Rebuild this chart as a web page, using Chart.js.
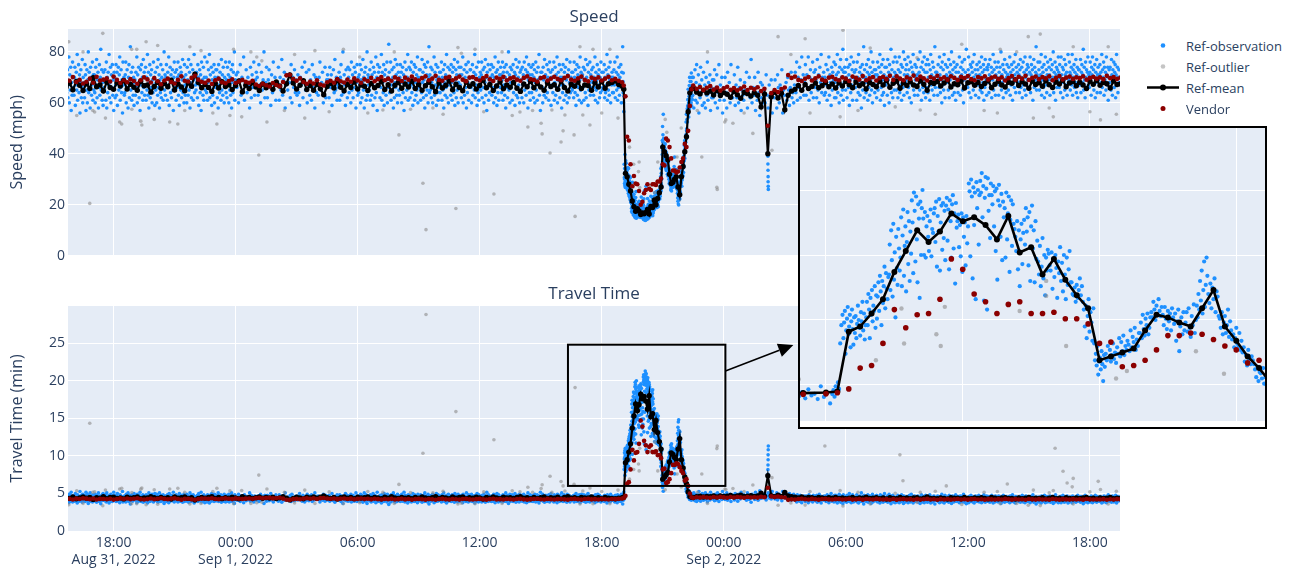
<!DOCTYPE html>
<html><head><meta charset="utf-8">
<script src="https://cdn.jsdelivr.net/npm/chart.js@4.4.0/dist/chart.umd.min.js"></script>
<style>
body{margin:0;background:#fff;width:1297px;height:571px;overflow:hidden;position:relative;font-family:'Open Sans',sans-serif;}
#top{position:absolute;left:0;top:0;}
#bot{position:absolute;left:0;top:280px;}
#insetBox{position:absolute;left:798px;top:126px;width:465px;height:299px;border:2px solid #000;background:#fff;z-index:5;}
#inset{position:absolute;left:0;top:0;}
#legend{position:absolute;left:1143px;top:35px;font-size:13px;color:#2a3f5f;z-index:6;}
.li{height:21px;display:flex;align-items:center;}
.li svg{display:block;}
</style></head>
<body>
<canvas id="top" width="1120" height="267"></canvas>
<canvas id="bot" width="1120" height="291"></canvas>
<div id="insetBox"><canvas id="inset" width="465" height="299"></canvas></div>
<div id="legend">
 <div class="li"><svg width="43" height="21"><circle cx="20" cy="10.5" r="2.3" fill="#1E90FF"/></svg><span>Ref-observation</span></div>
 <div class="li"><svg width="43" height="21"><circle cx="20" cy="10.5" r="2.3" fill="rgba(150,150,150,0.55)"/></svg><span>Ref-outlier</span></div>
 <div class="li"><svg width="43" height="21"><line x1="4" y1="10.5" x2="36" y2="10.5" stroke="#000" stroke-width="2.5"/><circle cx="20" cy="10.5" r="3" fill="#000"/></svg><span>Ref-mean</span></div>
 <div class="li"><svg width="43" height="21"><circle cx="20" cy="10.5" r="2.5" fill="#8B0000"/></svg><span>Vendor</span></div>
</div>
<script>
// ---------- DATA ----------
// travel time (min) = DIST / speed (mph); segment length 4.9 mi
const DIST = 294;
// time axis: hours since Aug 31 2022 00:00
const tickHours = [18,24,30,36,42,48,54,60,66];
const tickLabels = [['18:00','Aug 31, 2022'],['00:00','Sep 1, 2022'],'06:00','12:00','18:00',['00:00','Sep 2, 2022'],'06:00','12:00','18:00'];
const speedTicks = [0,20,40,60,80];
const ttTicks = [0,5,10,15,20,25];

// Ref-mean & Vendor speed (mph), 10-min steps from Aug 31 15:40 to Sep 1 19:00
const meanStartA = 15 + 40/60;
const meanSpeedA = [66.2,67.8,65.1,68.4,66.9,64.8, 67.5,65.6,69.9,66.3,67.1,64.6, 68.2,66.0,65.3,67.9,66.6,68.8,
 65.4,67.3,66.1,64.9,68.5,66.7, 67.0,64.2,66.4,68.1,65.7,67.6, 66.3,68.9,65.0,67.4,66.2,64.7,
 67.8,66.5,71.2,68.0,65.9,67.2, 66.0,64.5,67.7,65.8,68.3,66.4, 67.1,65.2,66.8,68.6,64.3,66.9,
 65.6,67.9,66.2,64.8,67.4,65.9, 67.0,65.3,68.2,66.6,64.6,67.5, 71.0,67.8,65.4,66.9,68.7,65.2,
 66.8,64.9,67.3,65.5,63.2,66.4, 67.7,65.8,68.9,66.1,64.7,67.2, 66.0,68.3,65.4,67.0,66.5,64.8,
 67.6,65.9,66.8,68.4,65.2,67.1, 64.6,66.9,68.0,65.7,67.4,66.2, 68.5,65.6,67.2,64.9,66.7,68.1,
 66.3,64.4,67.9,65.8,66.9,68.6, 65.1,67.3,66.0,64.7,68.2,66.5, 67.5,65.4,66.8,68.9,65.9,67.2,
 64.8,66.6,68.3,65.5,67.0,66.1, 68.0,65.7,64.5,67.4,66.3,68.5, 65.9,67.6,66.2,64.9,67.8,66.4,
 67.1,65.3,68.7,66.0,64.6,67.3, 66.5,68.2,65.6,67.0,66.8,64.9, 67.9,66.2,68.4,65.7,67.5,68.0,
 68.6,67.2,66.5];
const vendorSpeedA = [69.4,68.7,70.1,68.2,69.0,67.6, 68.3,69.5,67.9,70.2,68.8,69.1, 69.6,68.4,70.3,69.0,67.8,68.9,
 68.1,69.3,68.6,67.5,68.9,70.0, 69.2,68.0,69.7,68.5,67.3,68.8, 69.5,68.2,67.6,69.0,70.4,68.7,
 68.4,69.8,70.6,69.1,68.3,67.9, 68.8,67.4,68.9,69.5,68.1,67.7, 68.6,69.2,67.8,68.4,69.0,68.3,
 67.9,68.7,67.2,66.6,67.5,66.9, 66.4,67.8,67.0,66.5,68.2,70.8, 71.0,69.4,68.7,69.6,68.2,67.5,
 68.4,67.6,68.9,67.2,66.8,68.1, 68.7,67.9,69.3,68.5,68.0,69.1, 68.3,69.6,68.8,67.9,69.2,68.6,
 69.8,68.5,69.3,70.1,68.9,69.5, 68.7,70.0,69.4,68.6,69.9,69.1, 70.3,69.2,68.8,69.7,70.4,68.9,
 69.5,70.6,69.0,68.7,69.8,70.2, 68.9,69.6,70.3,69.1,68.5,69.9, 70.1,69.3,68.8,69.7,70.5,69.2,
 68.6,69.9,69.4,70.2,68.9,69.6, 70.0,69.1,68.7,69.8,70.4,69.3, 69.0,68.4,69.7,70.1,68.8,69.5,
 70.2,69.4,68.9,69.8,70.5,69.1, 68.7,69.6,70.3,69.0,68.5,69.9, 69.3,70.0,68.8,69.5,70.2,68.9,
 69.4,68.7,68.1];

// Incident window, travel time (min), 5-min steps from Sep 1 19:05 to 22:25
const eventStart = 43 + 5/60;
const eventMeanTT = [4.5, 9.1,9.5,10.5,11.6,13.7,15.3,16.9,16.0,16.8,18.2,17.6,17.9,17.3,16.2,18.0,15.2,15.6,13.5,14.7,13.1,
 11.9,10.9,6.9,7.2,7.5,7.8,9.2,10.4,10.2,9.8,9.5,10.9,12.3,9.5,8.4,7.2,6.3, 5.2,4.6,4.5];
const eventVendorTT = [4.4, 4.7,6.3,6.5,8.2,10.8,9.4,10.4,10.5,11.6,14.7,13.9,12.0,11.4,10.5,11.2,11.4,10.5,10.5,10.6,10.1,
 10.1,9.7,8.2,8.3,6.4,6.5,6.9,7.7,8.8,8.8,9.0,8.9,8.5,8.0,7.7,6.7,6.9, 6.0,5.0,4.5];
const eventObsTT = [
 [4.3,4.6,4.1,4.9,4.4,5.2,4.7,8.2,9.6,10.4],
 [8.6,9.8,10.7,7.4,9.2,10.1,11.0,8.9,9.5,10.4,7.9,9.9,10.8,9.3,8.1,10.2],
 [9.0,10.3,8.6,9.7,11.1,10.0,9.4,8.8,10.6,9.9,11.4,9.2,10.5,8.5,9.6],
 [10.2,11.4,9.6,12.0,10.8,8.6,11.7,10.4,12.3,9.9,11.1,10.7,12.6,9.4,11.9,10.1],
 [11.8,12.9,10.7,13.4,12.2,9.6,13.0,11.3,12.6,14.1,10.9,13.6,12.4,11.6,13.3],
 [13.5,15.8,12.3,16.9,14.6,11.8,17.4,13.1,15.2,10.2,16.4,14.0,12.7,17.0,15.5,13.8],
 [14.8,17.9,12.6,16.5,18.5,13.4,15.7,17.2,12.2,16.0,18.3,14.3,17.6,13.0,16.8,15.1],
 [19.2,17.5,13.6,19.8,18.4,14.5,19.5,16.2,12.9,18.9,17.8,11.7,19.1,15.0,18.6,20.0],
 [17.8,15.0,18.3,14.8,17.2,18.0,16.4,15.3,17.6,18.5,14.9,17.0,16.7,18.2],
 [18.6,16.0,19.1,14.1,18.0,16.8,19.3,13.8,17.5,18.8,15.4,19.0,16.3,18.4,14.6],
 [18.8,19.4,16.1,18.5,13.9,19.2,17.6,14.8,18.9,19.6,15.5,18.2,12.8,19.0,17.1],
 [17.6,18.1,15.6,17.3,14.9,18.2,13.7,17.9,16.4,17.5,14.2,18.0,15.9,17.2],
 [20.5,19.9,14.9,20.8,19.5,13.2,20.2,17.3,19.8,11.6,20.6,18.6,20.0,15.8,19.6],
 [20.7,19.8,21.3,17.9,20.3,11.5,19.4,21.0,20.1,10.8,20.9,18.4,19.6,16.3,20.5],
 [19.6,18.9,20.3,17.2,19.9,15.3,20.1,13.1,19.2,20.4,18.8,16.4,19.7,14.6],
 [19.1,17.9,18.6,14.8,19.8,16.2,18.2,19.5,13.7,17.7,19.2,15.7,18.9,17.4],
 [17.0,16.4,15.3,17.6,13.9,16.9,12.6,16.2,17.4,14.3,16.7,17.7,15.8],
 [18.6,16.8,17.9,14.2,18.3,13.0,17.2,18.8,15.5,16.9,12.9,17.6,14.7],
 [16.1,14.5,13.5,15.7,12.6,14.1,16.3,13.2,15.0,11.9,14.8,13.8,15.4],
 [15.1,14.2,13.8,15.2,12.4,14.7,13.3,15.0,14.0,11.7,14.5,13.6],
 [15.6,13.0,14.4,12.2,15.0,13.5,11.6,14.8,12.7,13.9,15.3,12.9],
 [12.9,12.0,11.9,12.5,11.4,12.7,11.7,12.3,13.2,11.9,12.6],
 [11.4,10.8,9.5,11.1,8.6,10.3,11.6,9.1,10.6,9.8,8.4,10.9],
 [8.2,6.9,7.4,6.5,8.0,5.8,6.8,7.1,6.2,7.6,6.6,5.3,7.3,6.4],
 [7.4,6.9,8.0,7.1,7.7,6.8,7.3,8.2,7.0,7.5,6.7],
 [7.9,7.4,8.6,7.2,8.3,7.6,8.8,7.3,8.0,7.7,8.4],
 [8.1,7.6,9.2,7.9,8.7,8.3,9.4,7.7,8.5,8.0,9.0],
 [9.0,9.8,8.6,10.4,9.3,8.8,10.1,9.6,10.5,8.9,9.4,10.2],
 [10.6,10.2,11.4,10.8,10.0,11.1,10.4,11.6,10.7,10.3,11.0],
 [10.4,9.6,11.0,10.1,9.3,10.7,9.9,10.5,9.2,10.9,10.2],
 [9.7,10.5,8.4,9.9,10.8,7.6,9.5,10.2,8.9,10.6,9.2],
 [9.8,10.6,9.1,10.9,9.4,8.7,10.3,9.6,11.2,9.0,10.0],
 [11.1,10.2,12.0,10.8,13.0,11.5,13.8,10.5,12.3,14.5,11.0,12.7,14.8,13.4],
 [12.0,11.3,12.8,10.9,12.5,11.6,13.2,10.6,12.2,11.8,10.3],
 [10.1,9.4,10.6,8.9,9.8,10.3,9.0,9.6,10.8,8.7,9.9],
 [9.2,8.5,8.9,7.9,8.6,9.4,8.2,8.0,9.0,7.7,8.4],
 [7.5,7.9,6.8,7.3,6.5,7.7,7.0,6.6,7.2,6.9],
 [6.6,6.2,5.6,6.4,5.3,6.0,5.9,5.5,6.3,5.1],
 [5.6,5.0,4.8,5.3,4.5,5.2,4.9,5.4,4.6],
 [4.7,4.4,5.1,4.2,4.8,4.5,4.3,4.9,4.6,5.0],
 [4.6,4.3,4.9,4.1,4.5,5.0,4.4,4.7,4.2,4.8]];

// Ref-mean & Vendor speed (mph), 10-min steps from Sep 1 22:30 to Sep 2 19:30
const meanStartC = 46.5;
const meanSpeedC = [65.8,64.2,63.5,65.0,63.9,64.6, 63.1,64.8,62.9,64.0,63.4,62.2, 64.5,63.2,61.8,64.1,63.6,62.7,
 64.0,63.0,58.4,63.5,40.0,62.4, 64.2,61.9,63.8,57.3,63.0,64.6, 65.3,66.8,64.9,67.2,65.6,66.4,
 67.8,65.9,66.7,68.1,66.3,67.4, 65.8,67.9,66.6,68.4,67.1,65.9, 68.2,66.7,67.5,65.4,68.0,67.2,
 66.3,68.5,67.0,68.9,66.1,67.7, 68.6,65.7,67.9,66.8,68.3,67.0, 66.4,68.7,67.3,64.9,68.0,67.6,
 68.4,66.6,67.8,69.0,66.2,67.5, 67.1,68.6,65.8,67.9,68.3,66.9, 68.0,66.4,67.6,68.8,65.9,67.3,
 68.5,67.0,66.2,68.1,67.7,69.1, 66.8,68.3,67.4,65.7,68.6,67.2, 67.9,66.5,68.7,67.1,66.0,68.2,
 67.4,68.9,66.3,67.8,68.4,66.7, 68.1,67.0,65.6,68.5,67.3,68.8, 66.9,68.0,67.5,65.8,68.6,67.2,
 67.4];
const vendorSpeedC = [66.8,65.5,66.2,65.0,65.9,66.6, 65.2,66.0,64.8,65.7,66.3,65.1, 65.8,64.9,65.6,66.4,65.0,65.9,
 65.3,66.1,64.6,65.5,51.0,63.8, 65.0,64.2,65.4,66.0,70.9,69.8, 70.3,69.0,68.6,69.5,70.1,68.8,
 69.6,70.4,69.1,68.7,69.9,70.2, 69.3,68.9,70.0,69.5,68.6,70.3, 69.8,69.1,70.5,68.9,69.6,70.1,
 68.8,69.7,70.2,69.3,70.6,69.0, 70.4,69.5,68.9,70.0,69.4,70.7, 69.2,70.3,69.6,68.8,70.1,69.5,
 70.6,69.4,70.0,69.1,70.4,69.8, 69.0,70.2,69.7,70.5,69.3,68.9, 70.1,69.6,70.4,69.2,69.9,70.3,
 69.4,70.0,68.8,69.7,70.5,69.1, 70.2,69.5,70.6,69.0,69.8,70.3, 69.3,70.1,69.6,70.4,68.9,69.8,
 70.5,69.2,69.9,70.3,69.4,70.0, 69.7,70.4,69.1,69.8,70.2,69.5, 70.0,69.3,70.6,69.7,70.1,69.4,
 69.9];

// Ref-observation speeds (mph) in 30-min bins from Aug 31 15:32:30
const obsStartA = 15 + 32.5/60;
const obsSpeedA = [
 [66,72,61,70,58,75,64,69,73,62,67,78,60,71,65,74,57,68,63,76,70,66],
 [63,70,74,59,67,72,65,79,61,69,75,64,71,56,68,73,62,66,77,60,70,67],
 [68,62,75,71,57,65,73,60,69,80,64,72,66,58,74,70,63,67,76,61,71,65],
 [71,64,60,74,67,77,62,69,72,58,66,75,63,70,81,65,73,61,68,59,72,66],
 [65,73,69,61,76,58,70,64,72,67,79,62,68,74,60,71,66,75,63,69,57,72],
 [70,62,67,75,63,72,59,68,74,65,71,78,61,66,73,64,69,56,76,67,70,63],
 [64,71,76,60,68,73,66,58,70,75,62,69,82,65,72,61,67,74,63,70,59,68],
 [69,63,72,66,78,60,71,65,74,62,68,57,73,67,75,64,70,61,77,66,72,63],
 [67,74,61,70,65,79,63,72,58,68,75,62,71,66,73,60,69,64,76,67,70,59],
 [72,65,68,60,74,63,77,66,71,58,69,64,75,62,70,67,73,61,68,80,65,71],
 [63,70,75,67,61,72,66,78,59,69,74,64,71,62,68,73,65,57,70,76,66,72],
 [68,61,73,66,70,76,63,71,59,67,74,65,72,62,69,77,64,70,60,75,67,63],
 [71,66,60,74,69,63,77,65,72,58,68,75,62,70,66,73,61,69,79,64,71,67],
 [65,72,68,62,75,70,59,67,73,64,71,57,76,66,69,63,74,61,70,78,65,68],
 [70,64,76,61,68,73,66,79,62,71,65,74,59,69,63,72,67,75,60,70,66,73],
 [66,73,62,70,58,75,67,64,72,69,61,77,65,71,63,74,68,60,70,66,76,64],
 [69,62,74,67,71,60,76,65,70,63,73,58,68,75,64,72,66,80,61,69,67,71],
 [66,72,60,69,75,63,70,65,78,61,68,73],
 [64,70,67,58,74,62,71,66,76,63,69,72],
 [70,63,75,67,60,72,65,69,80,62,68,74],
 [62,69,73,66,59,71,64,76,67,70,61,68],
 [68,74,61,70,65,77,63,69,72,58,67,71],
 [65,71,68,62,75,60,70,66,73,64,69,63],
 [71,64,59,70,67,74,62,68,76,65,72,60],
 [67,73,63,69,61,75,66,71,58,70,64,68],
 [63,70,76,65,68,72,60,67,74,62,69,71],
 [69,62,74,66,71,59,68,73,64,77,65,70,61,67],
 [66,72,61,70,75,63,68,80,64,71,67,59,73,69,62,74],
 [70,64,73,67,60,76,65,71,62,69,74,66,72,58,68,75,63,70],
 [64,71,67,75,60,69,73,62,68,77,65,70,58,72,66,74,61,69,80,63,71,67],
 [70,65,73,61,68,76,63,71,67,59,74,66,72,62,69,78,64,70,57,75,67,72],
 [67,74,62,70,66,79,61,72,68,64,75,59,71,65,73,63,69,76,60,70,66,83],
 [72,64,69,76,61,67,73,65,70,58,74,62,68,77,66,71,63,75,60,69,72,65],
 [63,70,75,66,72,60,68,74,64,71,57,69,76,62,67,73,65,70,79,61,68,74],
 [69,62,73,67,76,64,70,59,72,66,75,61,68,74,63,71,65,78,60,70,67,73],
 [66,73,61,70,64,77,68,72,62,69,75,58,67,74,63,71,65,76,60,70,82,64],
 [71,65,74,62,68,73,60,70,66,78,63,72,67,75,59,69,64,74,61,70,66,72],
 [64,72,67,76,61,70,65,73,58,68,75,63,71,66,79,62,69,74,60,70,67,73],
 [70,63,75,68,61,72,66,74,64,77,59,69,73,62,71,65,76,60,68,74,66,71],
 [67,74,62,71,65,78,60,69,73,63,70,66,75,58,72,64,68,76,61,70,67,73],
 [73,66,60,70,75,63,68,72,65,79,62,71,67,74,59,69,64,76,61,70,66,72],
 [65,71,76,62,69,73,66,60,74,68,77,63,70,57,72,66,75,61,69,64,73,70],
 [68,75,63,71,66,74,60,70,65,78,62,72,67,59,73,64,76,61,69,71,66,74],
 [71,64,69,76,61,72,67,74,63,70,58,75,66,72,62,69,80,65,71,60,74,68],
 [66,73,61,70,75,64,68,72,59,71,77,63,69,74,62,70,67,76,60,72,65,73],
 [69,62,74,67,71,60,76,65,70,73,63,78,66,72,58,69,75,64,71,61,68,74],
 [64,71,66,75,62,70,73,60,68,76,65,72,61,69,74,67,79,63,70,57,72,66],
 [72,66,60,74,69,63,77,65,71,62,68,75,64,70,73,61,69,76,66,72,59,70],
 [67,73,64,70,76,61,68,74,63,71,66,78,60,69,72,65,75,62,70,67,73,58],
 [70,64,75,67,61,72,66,74,63,69,77,60,71,65,73,62,68,76,64,70,66,72],
 [65,72,68,62,76,70,64,73,59,67,75,63,71,66,74,61,69,78,65,72,60,70],
 [71,66,74,61,69,73,64,77,62,70,67,75,59,72,65,68,76,63,71,66,73,69],
 [68,74,63,70,66,78,61,72,65,69,75,60,71,67,73,62,70,64,76,68,72,65],
 [66,72,69,75,62,70,64,73,67,79,61,71,65,74,63,69,76,60,70,67,72,64],
 [70,64,73,67,76,62,69,72,65,78,61,71,66,74,63,70,68,75,60,72,67,82]];

// Ref-observation speeds (mph) in 30-min bins from Sep 1 22:27:30
const obsStartC = 46 + 27.5/60;
const obsSpeedC = [
 [63,70,58,66,73,61,68,75,60,65,71,56,67,62,74,64,69,59],
 [65,72,60,67,58,70,63,76,61,68,64,71,57,66,62,69],
 [62,69,73,60,66,71,58,64,75,61,67,63,70,56],
 [66,61,70,64,58,72,63,68,60,75,65,62],
 [64,71,59,67,62,74,60,66,69,57,65,63],
 [61,68,65,72,58,64,70,62,77,60,66],
 [63,70,57,66,61,72,64,55,68,62,67,60],
 [65,60,71,63,58,67,62,69,56,64],
 [62,69,64,58,71,66,60,67,63,73,56,65],
 [63,57,68,61,70,65,59,66,72,62,64,60],
 [67,72,64,76,61,70,66,74,62,69,78,65,71,63],
 [68,75,63,71,66,78,61,70,73,64,69,76,62,72],
 [66,73,69,62,77,65,71,60,74,68,79,64,70,67,72,63],
 [70,64,75,67,61,73,66,78,63,71,68,59,74,65,72,69,76,62],
 [68,75,62,71,66,79,64,72,69,60,74,67,77,63,70,73,65,81,61,72,68,74],
 [72,65,70,77,62,68,74,66,71,59,75,69,64,78,67,73,61,70,76,66,72,69],
 [66,73,69,61,76,70,64,79,67,72,63,74,68,58,71,75,65,70,82,62,73,68],
 [70,64,75,68,72,61,77,66,71,63,74,69,80,65,72,60,76,67,70,73,64,71],
 [73,67,62,71,76,65,70,74,68,79,61,72,66,75,63,69,77,64,71,59,74,68],
 [67,74,70,63,77,69,72,60,75,66,71,81,64,73,68,62,76,70,65,72,78,69],
 [71,65,76,68,62,73,70,78,64,72,67,75,61,69,74,66,80,63,71,77,68,73],
 [69,75,64,71,78,66,73,62,70,76,68,60,74,67,72,79,65,71,63,75,69,70],
 [74,67,71,63,77,69,72,65,80,68,74,61,70,76,66,73,64,78,69,72,62,75],
 [66,72,77,64,70,75,68,61,73,79,67,71,65,76,69,74,63,70,82,66,72,68],
 [72,68,63,75,70,66,78,71,64,74,69,60,76,67,73,65,79,70,62,75,68,71],
 [68,74,70,65,77,62,72,69,75,66,80,71,63,73,67,76,64,70,74,61,72,69],
 [75,69,64,72,67,78,70,63,74,68,71,76,65,73,60,69,77,66,72,70,81,67],
 [70,66,73,78,64,71,68,75,62,74,69,72,76,65,70,79,67,73,63,71,68,75],
 [67,73,69,62,76,71,65,74,70,78,64,72,68,75,61,73,66,77,70,69,63,74],
 [73,68,75,64,71,77,66,70,74,62,72,69,79,65,73,67,76,63,71,70,74,68],
 [69,76,63,72,67,74,70,80,65,71,68,75,62,73,69,77,66,72,64,70,75,71],
 [71,65,74,69,78,63,72,67,75,70,61,73,68,76,66,71,79,64,74,69,72,67],
 [68,75,71,64,73,77,66,70,74,62,69,76,67,72,65,78,70,63,73,71,75,69],
 [74,69,66,72,78,64,71,75,68,73,61,70,77,66,74,69,72,82,65,71,68,76],
 [70,73,65,76,68,71,79,63,74,69,72,66,75,62,70,78,67,73,64,71,76,69],
 [67,74,71,63,77,69,73,66,75,70,80,64,72,68,76,61,71,74,66,73,69,78],
 [72,66,75,70,64,78,71,68,74,62,73,69,77,65,71,75,67,72,63,70,79,68],
 [69,76,72,65,71,74,67,79,63,73,70,75,66,72,68,77,64,71,74,62,70,73],
 [73,67,70,77,64,72,75,68,71,81,65,74,69,62,76,70,73,66,72,78,67,71],
 [66,72,76,69,63,74,71,78,67,73,65,70,75,62,72,68,77,64,71,74,69,70],
 [71,75,64,72,68,79,66,73,70,76,63,74,69,72,65,78,71,67,74,61,70,73],
 [68,74,70,65,77,71,63,73,69,76,66,72,75,62,71,79,67,74,64,70,73,68]];

// Brief slowdown Sep 2 ~02:10, individual observations
const spikeObsHour = [50.17,50.17,50.175,50.18,50.18,50.185,50.19];
const spikeObsSpeed = [39,36,33.5,31,29,27.2,26];

// Ref-outlier observations (hour, mph)
const outlierHour = [15.8,17.47,16.83,25.14,18.89,19.14,20.17,21.75,16.98,17.07,18.30,18.40,19.34,19.39,20.76,21.16,23.08,23.72,25.54,24.75,25.04,25.29,22.88,27.40,16.19,
 32.03,33.21,33.36,34.83,36.70,40.69,39.46,40.0,39.07,39.02,40.1,40.64,38.37,41.07,41.42,34.93,35.77,40.93,41.57,30.1,33.7,31.24,37.98,39.55,40.19,
 47.66,47.68,46.92,50.67,52.0,49.43,48.1,48.45,50.37,53.86,48.05,52.24,53.72,56.43,57.66,61.45,63.22,64.2,66.52,57.5,61.59,65.18,63.56,62.97,
 64.29,64.68,64.88,65.18,65.13,66.41,56.66,56.81,52.97,61.94,58.94,
 43.365,43.552,43.571,43.807,43.839,43.869,44.416,44.61,44.61,44.756,45.121,45.2,45.705,45.91,
 30.5,31.8,32.6,34.2,35.1,36.2,27.9,28.6,29.3,37.1,37.6,38.6,42.0,42.4,42.8,46.7,47.2,49.0,51.3,54.6,55.2,58.4,59.7,60.8,62.4,64.0,66.0,66.9,67.3,17.6,18.9,20.0,21.5,22.3,23.9,24.3,26.4,26.9,19.6,16.5];
const outlierSpeed = [84,87.3,20.5,39.5,81,81,82.5,82,57,56.4,52.5,51.7,52.8,51.3,52.5,51.7,51.7,55,52.5,80,78,76.5,56,54,55,
 47.4,28.4,10.2,18.5,24.2,15.4,40.3,44.6,47.8,52,49,47.4,50.5,55.2,51.3,81.7,81,82,81,78,58,57.2,56.4,57.2,55.2,
 26.8,26.0,38.7,86,85.2,48,53.3,52,41.4,88.5,52.5,56,54.5,58.4,57.2,56,54,54.5,53.3,77.7,81,82,87,86,
 26.7,37,46,42,50,44.5,29,44,26,47,49,
 42.6,27.0,35.9,33.0,36.75,26.7,27.5,22.6,24.8,36.75,53.5,48.4,38.7,50.1,
 56,80,57.5,55.5,79.5,56.5,80.5,56.5,81,80,55,57,56,81,54,57,80,56,79,57,81.5,55.5,83,57,80,58,56.5,82,55.5,54,57.5,53.5,57,80.5,81,54.5,57,79,84,80];

// ---------- BUILD POINTS ----------
const same = v => v;
const flip = v => DIST / v;   // mph <-> min over the segment
function series(start, step, vals, conv){ return vals.map((v,i)=>({x:start+i*step, y:conv(v)})); }
function bins(start, width, groups, conv){
  const out=[]; groups.forEach((g,k)=>{ const n=g.length; g.forEach((v,i)=>{ out.push({x:start+k*width+(i+0.5)/n*width, y:conv(v)}); }); }); return out;
}
function build(convSpeed, convTT){
  return {
    obs: [].concat(bins(obsStartA,0.5,obsSpeedA,convSpeed), bins(eventStart-2.5/60,5/60,eventObsTT,convTT), bins(obsStartC,0.5,obsSpeedC,convSpeed),
                   spikeObsHour.map((h,i)=>({x:h,y:convSpeed(spikeObsSpeed[i])}))),
    out: outlierHour.map((h,i)=>({x:h,y:convSpeed(outlierSpeed[i])})),
    mean: [].concat(series(meanStartA,1/6,meanSpeedA,convSpeed), series(eventStart,1/12,eventMeanTT,convTT), series(meanStartC,1/6,meanSpeedC,convSpeed)),
    vend: [].concat(series(meanStartA,1/6,vendorSpeedA,convSpeed), series(eventStart,1/12,eventVendorTT,convTT), series(meanStartC,1/6,vendorSpeedC,convSpeed))
  };
}
const speedPts = build(same, flip);
const ttPts = build(flip, same);

// ---------- CHARTS ----------
const FONT = "'Open Sans', sans-serif";
const TXT = '#2a3f5f';
Chart.defaults.font.family = FONT;
Chart.defaults.color = TXT;

const plotBg = { id:'plotBg', beforeDraw(c){ const a=c.chartArea, x=c.ctx; x.save(); x.fillStyle='#E5ECF6'; x.fillRect(a.left,a.top,a.right-a.left,a.bottom-a.top); x.restore(); } };
const panelTitle = { id:'panelTitle', afterDraw(c,args,o){ if(!o.text) return; const a=c.chartArea, x=c.ctx; x.save(); x.font='17px '+FONT; x.fillStyle=TXT; x.textAlign='center'; x.textBaseline='middle'; x.fillText(o.text,(a.left+a.right)/2,a.top-12); x.restore(); } };
const zoomBox = { id:'zoomBox', afterDatasetsDraw(c,args,o){ if(!o.box) return; const sx=c.scales.x, sy=c.scales.y, x=c.ctx;
  x.save(); x.strokeStyle='#000'; x.lineWidth=2;
  const L=sx.getPixelForValue(o.box[0]), R=sx.getPixelForValue(o.box[1]), T=sy.getPixelForValue(o.box[3]), B=sy.getPixelForValue(o.box[2]);
  x.strokeRect(L,T,R-L,B-T);
  const x0=sx.getPixelForValue(o.arrow[0]), y0=sy.getPixelForValue(o.arrow[1]), x1=sx.getPixelForValue(o.arrow[2]), y1=sy.getPixelForValue(o.arrow[3]);
  const ang=Math.atan2(y1-y0,x1-x0), hl=15, hw=7;
  const bx=x1-hl*Math.cos(ang), by=y1-hl*Math.sin(ang);
  x.lineWidth=1.5; x.beginPath(); x.moveTo(x0,y0); x.lineTo(bx,by); x.stroke();
  x.fillStyle='#000'; x.beginPath(); x.moveTo(x1,y1); x.lineTo(bx-hw*Math.sin(ang),by+hw*Math.cos(ang)); x.lineTo(bx+hw*Math.sin(ang),by-hw*Math.cos(ang)); x.closePath(); x.fill();
  x.restore(); } };

function datasets(p, big){
  return [
    {label:'Vendor', data:p.vend, order:0, pointRadius:big?2.8:2.3, pointBackgroundColor:'#8B0000', pointBorderWidth:0, showLine:false},
    {label:'Ref-mean', data:p.mean, order:1, pointRadius:big?3:2.7, pointBackgroundColor:'#000', pointBorderWidth:0, showLine:true, borderColor:'#000', borderWidth:big?2.6:2.2, tension:0},
    {label:'Ref-outlier', data:p.out, order:2, pointRadius:big?2.2:1.8, pointBackgroundColor:'rgba(140,140,140,0.6)', pointBorderWidth:0, showLine:false},
    {label:'Ref-observation', data:p.obs, order:3, pointRadius:big?2.1:1.8, pointBackgroundColor:'#1E90FF', pointBorderWidth:0, showLine:false}
  ];
}
const grid = {color:'#ffffff', lineWidth:1, drawTicks:false};
function xAxis(showLabels, h){
  return { type:'linear', min:15.76, max:67.48, border:{display:false}, grid:grid,
    afterBuildTicks:s=>{ s.ticks = tickHours.map(v=>({value:v})); },
    afterFit:s=>{ s.height=h; },
    ticks:{ display:showLabels, autoSkip:false, maxRotation:0, padding:4, font:{size:14,lineHeight:1.2}, color:TXT,
      callback:v=>{ const i=tickHours.indexOf(v); return i>=0?tickLabels[i]:''; } } };
}
function yAxis(max, tks, title){
  return { type:'linear', min:0, max:max, border:{display:false}, grid:grid,
    afterBuildTicks:s=>{ s.ticks = tks.map(v=>({value:v})); },
    afterFit:s=>{ s.width=68; },
    ticks:{ padding:3, font:{size:14}, color:TXT },
    title:{ display:true, text:title, font:{size:16}, color:TXT, padding:{top:8,bottom:0} } };
}
const common = { responsive:false, animation:false, events:[], layout:{autoPadding:false},
  plugins:{ legend:{display:false}, tooltip:{enabled:false} } };

new Chart(document.getElementById('top'), { type:'scatter', data:{datasets:datasets(speedPts,false)},
  plugins:[plotBg,panelTitle],
  options:Object.assign({}, common, { layout:{autoPadding:false, padding:{top:29,bottom:5,left:0,right:0}},
    plugins:{ legend:{display:false}, tooltip:{enabled:false}, panelTitle:{text:'Speed'} },
    scales:{ x:xAxis(false,0), y:yAxis(89, speedTicks, 'Speed (mph)') } }) });

new Chart(document.getElementById('bot'), { type:'scatter', data:{datasets:datasets(ttPts,false)},
  plugins:[plotBg,panelTitle,zoomBox],
  options:Object.assign({}, common, { layout:{autoPadding:false, padding:{top:26,bottom:0,left:0,right:0}},
    plugins:{ legend:{display:false}, tooltip:{enabled:false}, panelTitle:{text:'Travel Time'},
      zoomBox:{ box:[40.34,48.08,6.0,24.8], arrow:[48.08,21.3,51.42,24.77] } },
    scales:{ x:xAxis(true,40), y:yAxis(29.95, ttTicks, 'Travel Time (min)') } }) });

new Chart(document.getElementById('inset'), { type:'scatter', data:{datasets:datasets(ttPts,true)},
  plugins:[plotBg],
  options:Object.assign({}, common, { layout:{autoPadding:false, padding:{top:0,bottom:6,left:0,right:0}},
    scales:{
      x:{ type:'linear', min:42.81, max:46.21, border:{display:false}, grid:grid, ticks:{display:false},
          afterBuildTicks:s=>{ s.ticks=[43,44,45,46].map(v=>({value:v})); }, afterFit:s=>{ s.height=0; } },
      y:{ type:'linear', min:2.23, max:24.77, border:{display:false}, grid:grid, ticks:{display:false},
          afterBuildTicks:s=>{ s.ticks=[5,10,15,20].map(v=>({value:v})); }, afterFit:s=>{ s.width=0; } } } }) });
</script>
</body></html>
